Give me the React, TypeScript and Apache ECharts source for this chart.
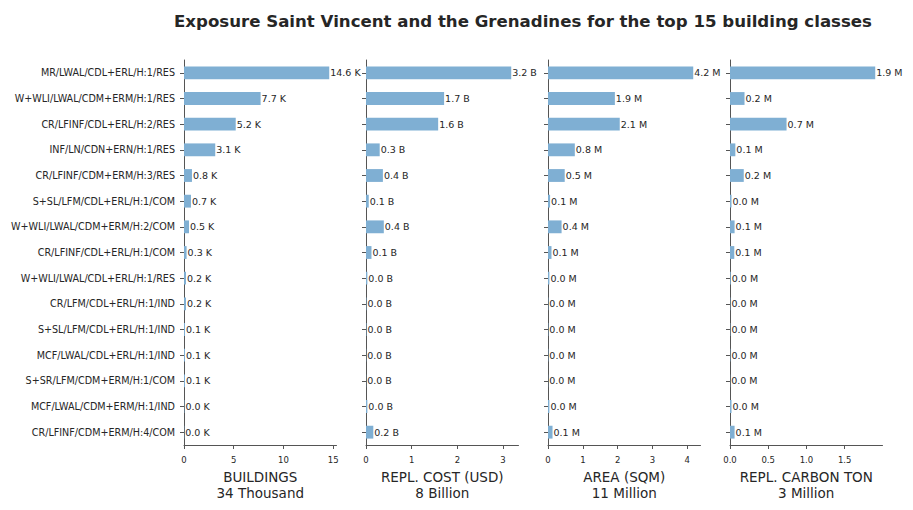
import React, { useEffect, useRef } from "react";
import * as echarts from "echarts";

const title = "Exposure Saint Vincent and the Grenadines for the top 15 building classes";

const categories = [
  "MR/LWAL/CDL+ERL/H:1/RES",
  "W+WLI/LWAL/CDM+ERM/H:1/RES",
  "CR/LFINF/CDL+ERL/H:2/RES",
  "INF/LN/CDN+ERN/H:1/RES",
  "CR/LFINF/CDM+ERM/H:3/RES",
  "S+SL/LFM/CDL+ERL/H:1/COM",
  "W+WLI/LWAL/CDM+ERM/H:2/COM",
  "CR/LFINF/CDL+ERL/H:1/COM",
  "W+WLI/LWAL/CDL+ERL/H:1/RES",
  "CR/LFM/CDL+ERL/H:1/IND",
  "S+SL/LFM/CDL+ERL/H:1/IND",
  "MCF/LWAL/CDL+ERL/H:1/IND",
  "S+SR/LFM/CDM+ERM/H:1/COM",
  "MCF/LWAL/CDM+ERM/H:1/IND",
  "CR/LFINF/CDM+ERM/H:4/COM",
];

// thousands of buildings
const buildings = [14.6, 7.7, 5.2, 3.14, 0.8, 0.7, 0.5, 0.26, 0.2, 0.2, 0.1, 0.1, 0.1, 0.04, 0.03];
// billions USD
const replCost = [3.18, 1.71, 1.58, 0.3, 0.37, 0.06, 0.39, 0.12, 0.03, 0.01, 0.01, 0.005, 0.004, 0.03, 0.16];
// millions sqm
const area = [4.17, 1.92, 2.06, 0.77, 0.48, 0.06, 0.39, 0.1, 0.04, 0.01, 0.01, 0.01, 0.005, 0.04, 0.13];
// millions tons
const carbon = [1.9, 0.19, 0.74, 0.07, 0.18, 0.02, 0.06, 0.056, 0.01, 0.005, 0.005, 0.005, 0.003, 0.02, 0.06];

const units = ["K", "B", "M", "M"];
const axisNames = [
  "BUILDINGS\n34 Thousand",
  "REPL. COST (USD)\n8 Billion",
  "AREA (SQM)\n11 Million",
  "REPL. CARBON TON\n3 Million",
];
const tickValues = [
  [0, 5, 10, 15],
  [0, 1, 2, 3],
  [0, 1, 2, 3, 4],
  [0, 0.5, 1, 1.5],
];
const tickDecimals = [0, 0, 0, 1];

const FONT = "DejaVu Sans";
const TEXT = "#262626";
const SPINE = "#555555";
const BAR = "#7fafd3";

export default function App() {
  const ref = useRef<HTMLDivElement>(null);
  useEffect(() => {
    if (!ref.current) return;
    const chart = echarts.init(ref.current, null, { renderer: "svg" });
    const datasets = [buildings, replCost, area, carbon];
    const lefts = [184, 366, 548, 730];
    const panelW = 152.5;
    const grids = lefts.map((l) => ({ left: l, top: 60, width: panelW, height: 385 }));
    const xAxes = datasets.map((_, i) => ({
      type: "value",
      gridIndex: i,
      min: 0,
      max: (v: any) => v.max * 1.05,
      splitLine: { show: false },
      axisLine: { show: true, lineStyle: { color: SPINE, width: 1 } },
      axisTick: { show: true, length: 4, lineStyle: { color: SPINE }, customValues: tickValues[i] },
      axisLabel: {
        customValues: tickValues[i],
        formatter: (v: number) => v.toFixed(tickDecimals[i]),
        fontFamily: FONT,
        fontSize: 8.5,
        color: TEXT,
        margin: 10,
      },
      name: axisNames[i],
      nameLocation: "middle",
      nameGap: 24,
      nameTextStyle: { fontFamily: FONT, fontSize: 13.5, color: TEXT, lineHeight: 16, verticalAlign: "top" },
    }));
    const yAxes = datasets.map((_, i) => ({
      type: "category",
      gridIndex: i,
      data: categories,
      inverse: true,
      axisLine: { show: true, lineStyle: { color: SPINE, width: 1 } },
      axisTick: { show: true, alignWithLabel: true, length: 4, lineStyle: { color: SPINE } },
      axisLabel: {
        show: i === 0,
        fontFamily: FONT,
        fontSize: 9.6,
        color: TEXT,
        margin: 9,
      },
      splitLine: { show: false },
    }));
    const series = datasets.map((d, i) => ({
      type: "bar",
      xAxisIndex: i,
      yAxisIndex: i,
      data: d,
      barWidth: "50%",
      itemStyle: { color: BAR },
      label: {
        show: true,
        position: "right",
        distance: 1,
        formatter: (p: any) => `${Number(p.value).toFixed(1)} ${units[i]}`,
        fontFamily: FONT,
        fontSize: 9.5,
        color: TEXT,
      },
    }));
    chart.setOption({
      animation: false,
      backgroundColor: "#ffffff",
      title: {
        text: title,
        left: 169,
        top: 8,
        textStyle: { fontFamily: FONT, fontWeight: "bold", fontSize: 16.6, color: TEXT },
      },
      grid: grids,
      xAxis: xAxes,
      yAxis: yAxes,
      series,
    });
    return () => chart.dispose();
  }, []);
  return (
    <div
      ref={ref}
      style={{ position: "fixed", left: 0, top: 0, width: 913, height: 510, background: "#fff" }}
    />
  );
}
